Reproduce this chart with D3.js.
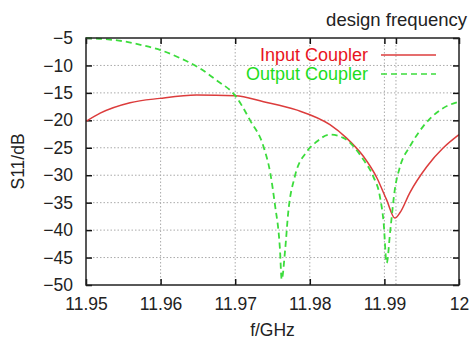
<!DOCTYPE html>
<html>
<head>
<meta charset="utf-8">
<script src="https://cdn.jsdelivr.net/npm/d3@7"></script>
<style>
  body { margin: 0; background: #fff; }
  svg { display: block; font-family: "Liberation Sans", Arial, sans-serif; }
</style>
</head>
<body>
<svg id="chart" width="471" height="341"></svg>
<script>
// S11 of the input coupler (f in GHz, dB)
const inputF = [11.95, 11.9519, 11.9559, 11.9599, 11.9648, 11.97, 11.9738, 11.9782, 11.9827,
  11.9849, 11.9872, 11.989, 11.9903, 11.9914, 11.9921, 11.9934, 11.9957, 11.9979, 12.0];
const inputDb = [-20.2, -18.7, -16.8, -16.0, -15.4, -15.5, -16.6, -18.1, -20.8,
  -23.2, -26.6, -30.5, -34.5, -37.8, -36.8, -33.2, -28.4, -25.0, -22.6];

// S11 of the output coupler
const outputF = [11.95, 11.9525, 11.9555, 11.9575, 11.96, 11.9625, 11.965, 11.9675, 11.97, 11.972,
  11.9738, 11.9747, 11.9753, 11.976, 11.97623, 11.9767, 11.9771, 11.978, 11.9796, 11.9809,
  11.9827, 11.9845, 11.9872, 11.9885, 11.9894, 11.9899, 11.9903, 11.9908, 11.9914, 11.9921,
  11.9934, 11.9952, 11.9975, 12.0];
const outputDb = [-5.0, -5.2, -5.7, -6.3, -7.2, -8.6, -10.3, -12.7, -15.5, -20.0,
  -24.8, -29.6, -35.1, -43.5, -49.0, -43.5, -36.9, -30.2, -25.7, -23.9,
  -22.6, -23.2, -27.2, -30.2, -33.9, -38.7, -46.0, -39.9, -32.6, -28.4,
  -24.8, -21.1, -18.1, -16.6];

const xTicks = [11.95, 11.96, 11.97, 11.98, 11.99, 12];
const xTickLabels = ["11.95", "11.96", "11.97", "11.98", "11.99", "12"];
const yTicks = [-5, -10, -15, -20, -25, -30, -35, -40, -45, -50];
const designFreq = 11.99155;

const margin = {left: 86, right: 12, top: 38, bottom: 56};
const width = 471 - margin.left - margin.right;
const height = 341 - margin.top - margin.bottom;
const fontSize = 17.5;

const svg = d3.select("#chart");
const g = svg.append("g")
  .attr("transform", "translate(" + margin.left + "," + margin.top + ")");

const x = d3.scaleLinear().domain([11.95, 12]).range([0, width]);
const y = d3.scaleLinear().domain([-50, -5]).range([height, 0]);

// grid
g.append("g")
  .selectAll("line")
  .data(xTicks.slice(1, -1).concat([designFreq]))
  .enter().append("line")
    .attr("x1", d => x(d)).attr("x2", d => x(d))
    .attr("y1", 0).attr("y2", height)
    .attr("stroke", "#aaa").attr("stroke-width", 1)
    .attr("stroke-dasharray", "1.5,2");

g.append("g")
  .selectAll("line")
  .data(yTicks.slice(1, -1))
  .enter().append("line")
    .attr("x1", 0).attr("x2", width)
    .attr("y1", d => y(d)).attr("y2", d => y(d))
    .attr("stroke", "#aaa").attr("stroke-width", 1)
    .attr("stroke-dasharray", "1.5,2");

// axes (ticks inward on all sides)
const tickLen = 6;
const fmtX = (d, i) => xTickLabels[i];

g.append("g")
  .attr("transform", "translate(0," + height + ")")
  .call(d3.axisBottom(x).tickValues(xTicks).tickFormat(fmtX).tickSizeInner(-tickLen).tickSizeOuter(0).tickPadding(13))
  .call(a => a.select(".domain").remove())
  .call(a => a.selectAll("text").attr("font-size", fontSize).attr("fill", "#222").attr("font-family", "Liberation Sans, Arial, sans-serif"));

g.append("g")
  .call(d3.axisTop(x).tickValues(xTicks.concat([designFreq])).tickFormat("").tickSizeInner(-tickLen).tickSizeOuter(0))
  .call(a => a.select(".domain").remove());

g.append("g")
  .call(d3.axisLeft(y).tickValues(yTicks).tickFormat(d3.format("d")).tickSizeInner(-tickLen).tickSizeOuter(0).tickPadding(13))
  .call(a => a.select(".domain").remove())
  .call(a => a.selectAll("text").attr("font-size", fontSize).attr("fill", "#222").attr("font-family", "Liberation Sans, Arial, sans-serif"));

g.append("g")
  .attr("transform", "translate(" + width + ",0)")
  .call(d3.axisRight(y).tickValues(yTicks).tickFormat("").tickSizeInner(-tickLen).tickSizeOuter(0))
  .call(a => a.select(".domain").remove());

g.selectAll(".tick line").attr("stroke", "#111").attr("stroke-width", 1.5);

// curves
const line = d3.line()
  .x(d => x(d[0]))
  .y(d => y(d[1]))
  .curve(d3.curveMonotoneX);

g.append("path")
  .datum(d3.zip(inputF, inputDb))
  .attr("fill", "none")
  .attr("stroke", "#dc3c3c")
  .attr("stroke-width", 1.5)
  .attr("d", line);

g.append("path")
  .datum(d3.zip(outputF, outputDb))
  .attr("fill", "none")
  .attr("stroke", "#3cdc3c")
  .attr("stroke-width", 1.8)
  .attr("stroke-dasharray", "6,4")
  .attr("d", line);

// frame
g.append("rect")
  .attr("width", width).attr("height", height)
  .attr("fill", "none").attr("stroke", "#222").attr("stroke-width", 1.5);

// legend
const items = [
  {label: "Input Coupler", color: "#e8141e", lineColor: "#dc3c3c", dash: null, yy: 17},
  {label: "Output Coupler", color: "#1edc1e", lineColor: "#3cdc3c", dash: "6,4", yy: 36}
];
items.forEach(it => {
  g.append("text")
    .attr("x", 282).attr("y", it.yy)
    .attr("dy", "0.35em")
    .attr("text-anchor", "end")
    .attr("font-size", 18)
    .attr("fill", it.color)
    .text(it.label);
  g.append("line")
    .attr("x1", 295).attr("x2", 350)
    .attr("y1", it.yy).attr("y2", it.yy)
    .attr("stroke", it.lineColor)
    .attr("stroke-width", 1.5)
    .attr("stroke-dasharray", it.dash);
});

// labels
svg.append("text")
  .attr("x", 467).attr("y", 20)
  .attr("dy", "0.35em")
  .attr("text-anchor", "end")
  .attr("font-size", 18.5)
  .attr("fill", "#222")
  .text("design frequency");

svg.append("text")
  .attr("x", margin.left + width / 2).attr("y", 330)
  .attr("dy", "0.35em")
  .attr("text-anchor", "middle")
  .attr("font-size", fontSize)
  .attr("fill", "#222")
  .text("f/GHz");

svg.append("text")
  .attr("transform", "translate(18," + (margin.top + height / 2) + ")rotate(-90)")
  .attr("dy", "0.35em")
  .attr("text-anchor", "middle")
  .attr("font-size", fontSize)
  .attr("fill", "#222")
  .text("S11/dB");
</script>
</body>
</html>
